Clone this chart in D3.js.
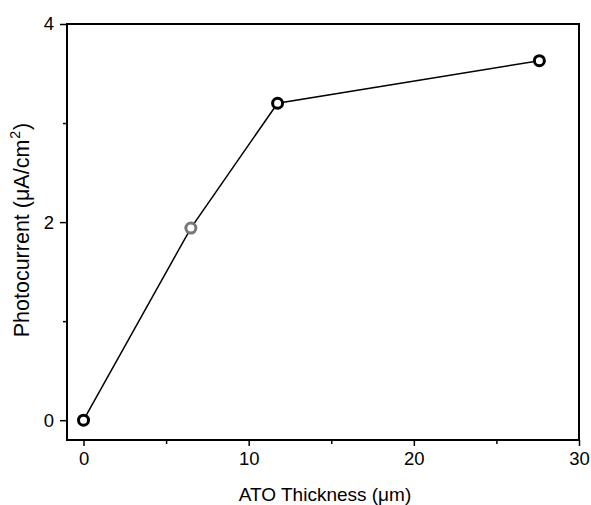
<!DOCTYPE html>
<html>
<head>
<meta charset="utf-8">
<script src="https://cdn.jsdelivr.net/npm/d3@7"></script>
<style>
  body { margin: 0; background: #fff; }
  text { font-family: "Liberation Sans", Arial, sans-serif; }
</style>
</head>
<body>
<svg id="chart" width="591" height="505"></svg>
<script>
// data
const thickness = [0, 6.5, 11.75, 27.6];
const photocurrent = [0, 1.94, 3.2, 3.63];
const pointColors = ['#000', '#777', '#000', '#000'];
const xTicks = [0, 10, 20, 30];
const xMinor = [5, 15, 25];
const yTicks = [0, 2, 4];
const yMinor = [1, 3];

const svg = d3.select('#chart');
const mLeft = 67, mRight = 579, mTop = 24, mBottom = 440;

const x = d3.scaleLinear().domain([-1, 30]).range([mLeft, mRight]);
const y = d3.scaleLinear().domain([-0.2, 4]).range([mBottom, mTop]);

// frame
svg.append('rect')
  .attr('x', mLeft).attr('y', mTop)
  .attr('width', mRight - mLeft).attr('height', mBottom - mTop)
  .attr('fill', 'none').attr('stroke', '#000').attr('stroke-width', 2);

// axes
const xAxis = svg.append('g')
  .attr('transform', `translate(0,${mBottom})`)
  .call(d3.axisBottom(x).tickValues(xTicks).tickSize(6).tickPadding(6).tickFormat(d3.format('d')));
const xAxisMinor = svg.append('g')
  .attr('transform', `translate(0,${mBottom})`)
  .call(d3.axisBottom(x).tickValues(xMinor).tickSize(4).tickFormat(''));
const yAxis = svg.append('g')
  .attr('transform', `translate(${mLeft},0)`)
  .call(d3.axisLeft(y).tickValues(yTicks).tickSize(7).tickPadding(6).tickFormat(d3.format('d')));
const yAxisMinor = svg.append('g')
  .attr('transform', `translate(${mLeft},0)`)
  .call(d3.axisLeft(y).tickValues(yMinor).tickSize(4).tickFormat(''));

[xAxis, xAxisMinor, yAxis, yAxisMinor].forEach(g => {
  g.select('.domain').remove();
  g.selectAll('line').attr('stroke', '#000').attr('stroke-width', 1.5);
  g.selectAll('text').attr('font-size', 18.5).attr('fill', '#000')
    .style('font-family', '"Liberation Sans", Arial, sans-serif');
});

// line
const pts = thickness.map((t, i) => [t, photocurrent[i]]);
svg.append('path')
  .datum(pts)
  .attr('d', d3.line().x(d => x(d[0])).y(d => y(d[1])))
  .attr('fill', 'none').attr('stroke', '#000').attr('stroke-width', 1.5);

// markers
svg.selectAll('circle.pt')
  .data(pts)
  .join('circle')
  .attr('class', 'pt')
  .attr('cx', d => x(d[0])).attr('cy', d => y(d[1]))
  .attr('r', 5)
  .attr('fill', '#fff')
  .attr('stroke', (d, i) => pointColors[i])
  .attr('stroke-width', 3);

// axis titles
svg.append('text')
  .attr('x', 325).attr('y', 501)
  .attr('text-anchor', 'middle').attr('font-size', 19)
  .text('ATO Thickness (μm)');

const yl = svg.append('text')
  .attr('transform', 'translate(29,230) rotate(-90)')
  .attr('text-anchor', 'middle').attr('font-size', 21.5);
yl.append('tspan').text('Photocurrent (μA/cm');
yl.append('tspan').attr('font-size', 14).attr('dy', -9).attr('dx', 1).text('2');
yl.append('tspan').attr('dy', 9).attr('dx', 1).text(')');
</script>
</body>
</html>
